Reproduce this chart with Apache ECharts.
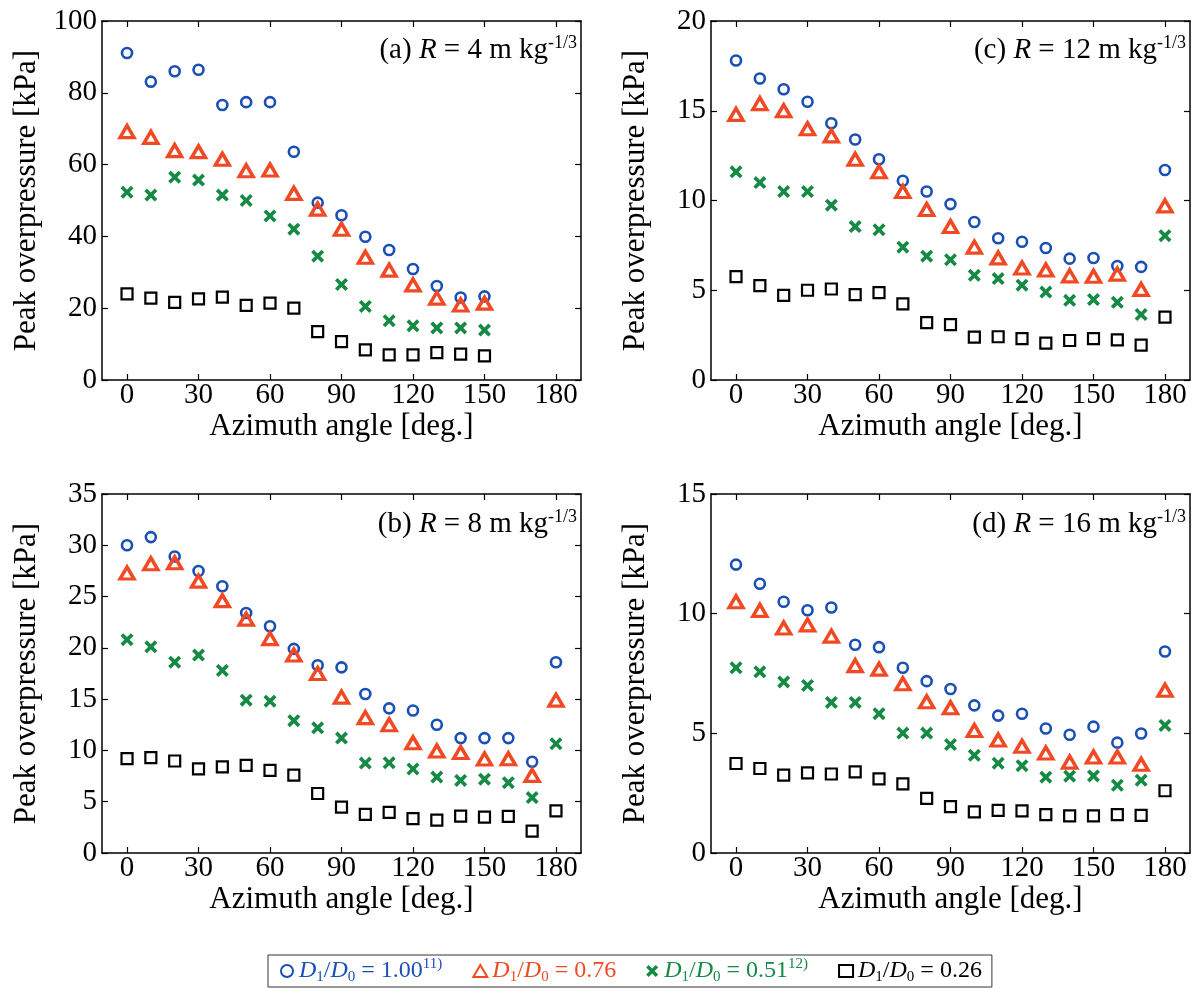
<!DOCTYPE html>
<html>
<head>
<meta charset="utf-8">
<script src="https://cdn.jsdelivr.net/npm/echarts@6/dist/echarts.min.js"></script>
<style>
html, body { margin: 0; background: #fff; }
#main { width: 1198px; height: 989px; }
</style>
</head>
<body>
<div id="main"></div>
<script>
// azimuth angles [deg.]
var angles = [0, 10, 20, 30, 40, 50, 60, 70, 80, 90, 100, 110, 120, 130, 140, 150, 160, 170, 180];
var anglesA = angles.slice(0, 16);
var xTicks = [0, 30, 60, 90, 120, 150, 180];

// (a) R = 4
var aBlue  = [91.1, 83.1, 86.0, 86.4, 76.6, 77.4, 77.4, 63.6, 49.4, 45.9, 39.9, 36.2, 30.9, 26.2, 23.0, 23.3];
var aRed   = [69.2, 67.6, 63.9, 63.6, 61.5, 58.3, 58.5, 52.0, 47.6, 42.0, 34.2, 30.6, 26.5, 22.8, 20.9, 21.4];
var aGreen = [52.3, 51.5, 56.5, 55.7, 51.5, 50.0, 45.7, 42.0, 34.5, 26.6, 20.5, 16.5, 15.1, 14.5, 14.5, 13.9];
var aBlack = [24.0, 22.8, 21.6, 22.6, 23.1, 20.8, 21.4, 20.0, 13.5, 10.7, 8.4, 7.0, 7.0, 7.6, 7.2, 6.7];

// (b) R = 8
var bBlue  = [30.0, 30.8, 28.9, 27.5, 26.0, 23.4, 22.1, 19.9, 18.3, 18.1, 15.5, 14.1, 13.9, 12.5, 11.2, 11.2, 11.2, 8.9, 18.6];
var bRed   = [27.3, 28.2, 28.3, 26.5, 24.6, 22.8, 20.9, 19.3, 17.5, 15.2, 13.2, 12.5, 10.75, 9.94, 9.8, 9.16, 9.19, 7.57, 14.9];
var bGreen = [20.8, 20.1, 18.6, 19.3, 17.8, 14.9, 14.8, 12.9, 12.2, 11.2, 8.77, 8.8, 8.19, 7.4, 7.08, 7.2, 6.86, 5.4, 10.65];
var bBlack = [9.2, 9.3, 8.97, 8.2, 8.4, 8.55, 8.06, 7.6, 5.8, 4.48, 3.77, 3.96, 3.35, 3.2, 3.6, 3.5, 3.57, 2.14, 4.1];

// (c) R = 12
var cBlue  = [17.8, 16.8, 16.2, 15.5, 14.3, 13.4, 12.3, 11.1, 10.5, 9.8, 8.8, 7.9, 7.7, 7.35, 6.76, 6.8, 6.35, 6.3, 11.7];
var cRed   = [14.8, 15.4, 15.0, 14.0, 13.6, 12.3, 11.6, 10.5, 9.5, 8.55, 7.4, 6.8, 6.24, 6.13, 5.8, 5.78, 5.9, 5.05, 9.7];
var cGreen = [11.6, 11.0, 10.5, 10.5, 9.74, 8.55, 8.37, 7.4, 6.9, 6.7, 5.83, 5.65, 5.28, 4.9, 4.44, 4.48, 4.33, 3.65, 8.04];
var cBlack = [5.76, 5.26, 4.72, 5.0, 5.07, 4.76, 4.87, 4.24, 3.2, 3.09, 2.39, 2.41, 2.31, 2.05, 2.2, 2.3, 2.24, 1.94, 3.5];

// (d) R = 16
var dBlue  = [12.05, 11.25, 10.5, 10.14, 10.26, 8.7, 8.6, 7.74, 7.18, 6.85, 6.17, 5.74, 5.82, 5.2, 4.94, 5.28, 4.61, 4.99, 8.42];
var dRed   = [10.5, 10.14, 9.4, 9.53, 9.06, 7.83, 7.68, 7.07, 6.32, 6.07, 5.12, 4.72, 4.46, 4.18, 3.8, 4.01, 4.01, 3.71, 6.8];
var dGreen = [7.74, 7.57, 7.15, 7.0, 6.29, 6.29, 5.82, 5.01, 5.01, 4.53, 4.08, 3.75, 3.65, 3.17, 3.21, 3.22, 2.83, 3.04, 5.33];
var dBlack = [3.74, 3.53, 3.25, 3.35, 3.3, 3.39, 3.1, 2.89, 2.28, 1.94, 1.72, 1.78, 1.76, 1.6, 1.55, 1.55, 1.6, 1.57, 2.6];

var seriesNames = ['D1/D0 = 1.00', 'D1/D0 = 0.76', 'D1/D0 = 0.51', 'D1/D0 = 0.26'];
var legendTail = ['1.00', '0.76', '0.51', '0.26'];
var legendSup = ['11)', '', '12)', ''];

var FONT = 'Liberation Serif';
var colors = ['#1a4fb5', '#f04923', '#148a44', '#000000'];
var xPath = 'path://M0,2L2,0L5,3L8,0L10,2L7,5L10,8L8,10L5,7L2,10L0,8L3,5Z';

var markStyles = [
    { symbol: 'circle', symbolSize: 10, itemStyle: { color: 'transparent', borderColor: colors[0], borderWidth: 2.6, opacity: 1 } },
    { symbol: 'triangle', symbolSize: [14, 12], itemStyle: { color: 'transparent', borderColor: colors[1], borderWidth: 3.4, opacity: 1 } },
    { symbol: xPath, symbolSize: 13, itemStyle: { color: colors[2], borderWidth: 0, opacity: 1 } },
    { symbol: 'rect', symbolSize: 11, itemStyle: { color: 'transparent', borderColor: colors[3], borderWidth: 2.2, opacity: 1 } }
];

// panels: a (top left), c (top right), b (bottom left), d (bottom right)
var panels = [
    { left: 102, top: 21, max: 100, step: 20, x: anglesA, data: [aBlue, aRed, aGreen, aBlack], tag: '(a) ', R: '4', right: 621, ttop: 34 },
    { left: 711, top: 21, max: 20, step: 5, x: angles, data: [cBlue, cRed, cGreen, cBlack], tag: '(c) ', R: '12', right: 12, ttop: 34 },
    { left: 102, top: 494, max: 35, step: 5, x: angles, data: [bBlue, bRed, bGreen, bBlack], tag: '(b) ', R: '8', right: 621, ttop: 508 },
    { left: 711, top: 494, max: 15, step: 5, x: angles, data: [dBlue, dRed, dGreen, dBlack], tag: '(d) ', R: '16', right: 12, ttop: 508 }
];

var grids = [], xAxes = [], yAxes = [], series = [], titles = [];

var lineStyle = { color: '#000', width: 1.5 };
var tickStyle = { color: '#000', width: 1.2 };

panels.forEach(function (p, i) {
    grids.push({ left: p.left, top: p.top, width: 479, height: 359 });

    xAxes.push({
        gridIndex: i, type: 'value', position: 'bottom', min: -10.5, max: 190.5,
        axisLine: { show: true, onZero: false, lineStyle: lineStyle },
        axisTick: { show: true, inside: true, length: 6, customValues: xTicks, lineStyle: tickStyle },
        axisLabel: { customValues: xTicks, color: '#000', fontFamily: FONT, fontSize: 29, margin: 1 },
        splitLine: { show: false },
        name: 'Azimuth angle [deg.]', nameLocation: 'middle', nameGap: 19,
        nameTextStyle: { color: '#000', fontFamily: FONT, fontSize: 31 }
    });
    xAxes.push({
        gridIndex: i, type: 'value', position: 'top', min: -10.5, max: 190.5,
        axisLine: { show: true, onZero: false, lineStyle: lineStyle },
        axisTick: { show: true, inside: true, length: 6, customValues: xTicks, lineStyle: tickStyle },
        axisLabel: { show: false },
        splitLine: { show: false }
    });

    yAxes.push({
        gridIndex: i, type: 'value', position: 'left', min: 0, max: p.max, interval: p.step,
        axisLine: { show: true, onZero: false, lineStyle: lineStyle },
        axisTick: { show: true, inside: true, length: 6, lineStyle: tickStyle },
        axisLabel: { color: '#000', fontFamily: FONT, fontSize: 29, margin: 5 },
        splitLine: { show: false },
        name: 'Peak overpressure [kPa]', nameLocation: 'middle', nameGap: 60,
        nameTextStyle: { color: '#000', fontFamily: FONT, fontSize: 31 }
    });
    yAxes.push({
        gridIndex: i, type: 'value', position: 'right', min: 0, max: p.max, interval: p.step,
        axisLine: { show: true, onZero: false, lineStyle: lineStyle },
        axisTick: { show: true, inside: true, length: 6, lineStyle: tickStyle },
        axisLabel: { show: false },
        splitLine: { show: false }
    });

    p.data.forEach(function (vals, k) {
        series.push({
            name: seriesNames[k],
            type: 'scatter',
            xAxisIndex: 2 * i,
            yAxisIndex: 2 * i,
            symbol: markStyles[k].symbol,
            symbolSize: markStyles[k].symbolSize,
            itemStyle: markStyles[k].itemStyle,
            data: p.x.map(function (a, j) { return [a, vals[j]]; })
        });
    });

    titles.push({
        text: '{n|' + p.tag + '}{i|R}{n| = ' + p.R + ' m kg}{p|-1/3}',
        right: p.right, top: p.ttop, padding: 0,
        textStyle: {
            fontWeight: 'normal',
            rich: {
                n: { fontFamily: FONT, fontSize: 29, fontWeight: 'normal', color: '#000', lineHeight: 32 },
                i: { fontFamily: FONT, fontSize: 29, fontWeight: 'normal', fontStyle: 'italic', color: '#000', lineHeight: 32 },
                p: { fontFamily: FONT, fontSize: 18, fontWeight: 'normal', color: '#000', verticalAlign: 'top', lineHeight: 32 }
            }
        }
    });
});

var legendRich = {};
['b', 'r', 'g', 'k'].forEach(function (c, k) {
    legendRich[c + 'i'] = { fontFamily: FONT, fontSize: 24, fontStyle: 'italic', color: colors[k], lineHeight: 28 };
    legendRich[c + 's'] = { fontFamily: FONT, fontSize: 15, color: colors[k], verticalAlign: 'bottom', lineHeight: 24 };
    legendRich[c + 'n'] = { fontFamily: FONT, fontSize: 24, color: colors[k], lineHeight: 28 };
    legendRich[c + 'p'] = { fontFamily: FONT, fontSize: 15, color: colors[k], verticalAlign: 'top', lineHeight: 26 };
});

var chart = echarts.init(document.getElementById('main'));
chart.setOption({
    animation: false,
    backgroundColor: '#fff',
    title: titles,
    grid: grids,
    xAxis: xAxes,
    yAxis: yAxes,
    legend: {
        data: seriesNames,
        left: 268, top: 955,
        borderColor: '#333', borderWidth: 1,
        padding: [2, 10, 2, 12],
        itemGap: 30, itemWidth: 14, itemHeight: 12,
        formatter: function (name) {
            var k = seriesNames.indexOf(name);
            var c = ['b', 'r', 'g', 'k'][k];
            var s = '{' + c + 'i|D}{' + c + 's|1}{' + c + 'n|/}{' + c + 'i|D}{' + c + 's|0}{' + c + 'n| = ' + legendTail[k] + '}';
            if (legendSup[k]) s += '{' + c + 'p|' + legendSup[k] + '}';
            return s;
        },
        textStyle: { rich: legendRich }
    },
    series: series
});
</script>
</body>
</html>
